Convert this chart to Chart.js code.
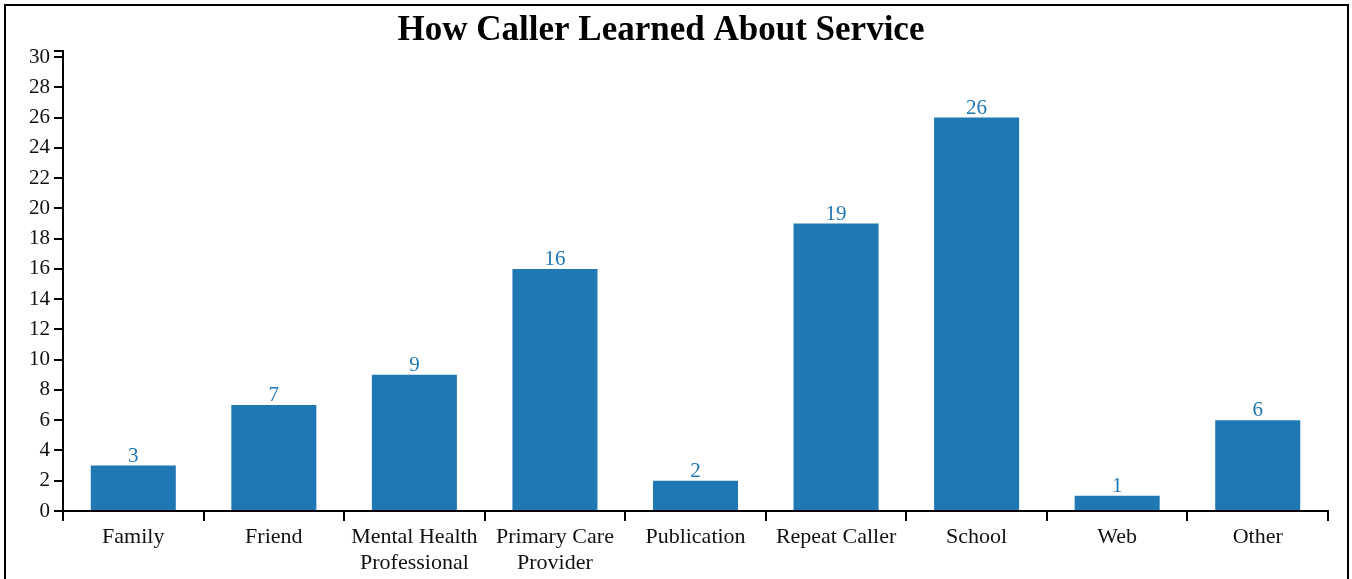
<!DOCTYPE html>
<html>
<head>
<meta charset="utf-8">
<script src="https://cdn.jsdelivr.net/npm/chart.js@4"></script>
<style>
  body { margin:0; background:#fff; }
  #wrap { position:relative; width:1352px; height:579px; overflow:hidden; }
  #frame { position:absolute; left:4px; top:4px; width:1341px; height:600px; border:2px solid #000; pointer-events:none; }
</style>
</head>
<body>
<div id="wrap">
  <canvas id="chart" width="1352" height="579"></canvas>
  <div id="frame"></div>
</div>
<script>
const title = 'How Caller Learned About Service';
const categories = [
  'Family', 'Friend', ['Mental Health', 'Professional'], ['Primary Care', 'Provider'],
  'Publication', 'Repeat Caller', 'School', 'Web', 'Other'
];
const counts = [3, 7, 9, 16, 2, 19, 26, 1, 6];
const yTicks = [0, 2, 4, 6, 8, 10, 12, 14, 16, 18, 20, 22, 24, 26, 28, 30];
const yTop = 30.4;

const serif = '"Liberation Serif", "Times New Roman", serif';
const blue = '#1f77b4';

// title sits a bit left of the plot centre
const titlePlugin = {
  id: 'topTitle',
  afterDraw(chart){
    const ctx = chart.ctx;
    ctx.save();
    ctx.font = `bold 35px ${serif}`;
    ctx.fillStyle = '#000';
    ctx.textAlign = 'center';
    ctx.textBaseline = 'middle';
    ctx.fillText(title, 661, 31);
    ctx.restore();
  }
};

// count above each bar
const valueLabels = {
  id: 'valueLabels',
  afterDatasetsDraw(chart){
    const ctx = chart.ctx;
    const meta = chart.getDatasetMeta(0);
    ctx.save();
    ctx.font = `21px ${serif}`;
    ctx.fillStyle = blue;
    ctx.textAlign = 'center';
    ctx.textBaseline = 'alphabetic';
    meta.data.forEach((bar, i)=>{
      ctx.fillText(String(counts[i]), bar.x, bar.y - 4);
    });
    ctx.restore();
  }
};

new Chart(document.getElementById('chart'), {
  type: 'bar',
  data: {
    labels: categories,
    datasets: [{ data: counts, backgroundColor: blue, barPercentage: 0.605, categoryPercentage: 1.0 }]
  },
  options: {
    responsive: false,
    animation: false,
    layout: { padding: { top: 51, right: 24, left: 0, bottom: 0 } },
    plugins: { legend: { display: false }, tooltip: { enabled: false }, title: { display: false } },
    scales: {
      x: {
        afterFit: s => { s.height = 68; },
        border: { display: true, color: '#000', width: 2 },
        grid: { offset: true, drawOnChartArea: false, drawTicks: true, tickLength: 10, color: '#000', lineWidth: 2 },
        ticks: { color: '#111', font: { family: serif, size: 22 }, padding: 3, maxRotation: 0, autoSkip: false }
      },
      y: {
        min: 0,
        max: yTop,
        afterFit: s => { s.width = 63; },
        afterBuildTicks: s => { s.ticks = yTicks.concat([yTop]).map(v => ({ value: v })); },
        border: { display: true, color: '#000', width: 2 },
        grid: { drawOnChartArea: false, drawTicks: true, tickLength: 9, color: '#000', lineWidth: 2 },
        ticks: {
          color: '#111', font: { family: serif, size: 21 }, padding: 4, autoSkip: false,
          callback: v => v === yTop ? '' : v
        }
      }
    }
  },
  plugins: [titlePlugin, valueLabels]
});
</script>
</body>
</html>
